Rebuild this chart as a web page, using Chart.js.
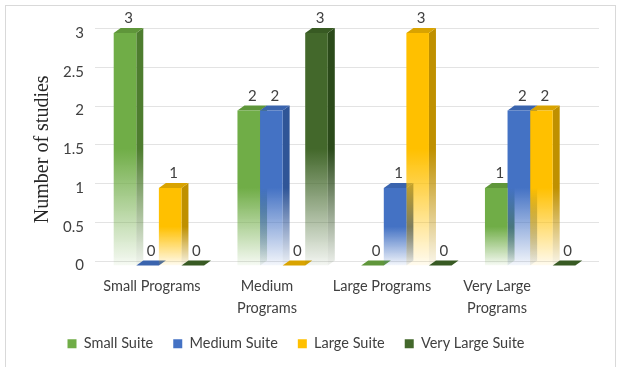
<!DOCTYPE html>
<html>
<head>
<meta charset="utf-8">
<script src="https://cdn.jsdelivr.net/npm/chart.js@4"></script>
<style>
  html, body { margin: 0; padding: 0; background: #ffffff; }
  #wrap { position: relative; width: 620px; height: 367px; overflow: hidden; }
  #frame { position: absolute; left: 5px; top: 5px; width: 611px; height: 380px; border: 1px solid #d9d9d9; box-sizing: border-box; }
  canvas { position: absolute; left: 0; top: 0; }
</style>
</head>
<body>
<div id="wrap">
  <div id="frame"></div>
  <canvas id="c" width="620" height="367"></canvas>
</div>
<script>
// ---- data ----
const categories = ['Small Programs', 'Medium Programs', 'Large Programs', 'Very Large Programs'];
const categoryLines = [['Small Programs'], ['Medium', 'Programs'], ['Large Programs'], ['Very Large', 'Programs']];
const seriesNames = ['Small Suite', 'Medium Suite', 'Large Suite', 'Very Large Suite'];
const smallSuite = [3, 2, 0, 1];
const mediumSuite = [0, 2, 1, 2];
const largeSuite = [1, 0, 3, 2];
const veryLargeSuite = [0, 3, 0, 0];
const yAxisTitle = 'Number of studies';

// ---- style ----
const frontColors = ['#70AD47', '#4472C4', '#FFC000', '#43682B'];
const sideColors  = ['#4E7D2F', '#2F5597', '#BF9000', '#2B4A1A'];
const topColors   = ['#5F963A', '#3A64AE', '#D9A300', '#385A23'];
const DX = 7, DY = 5;

function hexA(hex, a) {
  const n = parseInt(hex.slice(1), 16);
  return `rgba(${(n >> 16) & 255},${(n >> 8) & 255},${n & 255},${a})`;
}

function frontFill(i) {
  return (context) => {
    const chart = context.chart;
    if (!chart.chartArea || context.type !== 'data') return frontColors[i];
    const ys = chart.scales.y;
    const top = ys.getPixelForValue(context.raw);
    const base = ys.getPixelForValue(0);
    if (!(base - top > 1)) return frontColors[i];
    const g = chart.ctx.createLinearGradient(0, top, 0, base);
    g.addColorStop(0, frontColors[i]);
    g.addColorStop(0.5, frontColors[i]);
    g.addColorStop(1, hexA(frontColors[i], 0.06));
    return g;
  };
}

const seriesData = [smallSuite, mediumSuite, largeSuite, veryLargeSuite];

const bars3d = {
  id: 'bars3d',
  beforeDatasetsDraw(chart) {
    const ctx = chart.ctx;
    const ys = chart.scales.y;
    const area = chart.chartArea;
    // back-wall grid lines
    ctx.save();
    ctx.strokeStyle = '#e3e3e3';
    ctx.lineWidth = 1;
    ys.ticks.forEach(t => {
      const py = Math.round(ys.getPixelForValue(t.value) - DY) + 0.5;
      ctx.beginPath();
      ctx.moveTo(area.left - 2, py);
      ctx.lineTo(area.right + DX, py);
      ctx.stroke();
    });
    ctx.restore();
    // side and top faces (drawn before fronts so neighbouring fronts occlude them)
    chart.data.datasets.forEach((ds, i) => {
      const meta = chart.getDatasetMeta(i);
      meta.data.forEach(bar => {
        const {x, y, base, width} = bar.getProps(['x', 'y', 'base', 'width'], true);
        const l = x - width / 2, r = x + width / 2;
        ctx.save();
        if (base - y > 0.5) {
          const g = ctx.createLinearGradient(0, y, 0, base);
          g.addColorStop(0, sideColors[i]);
          g.addColorStop(0.5, sideColors[i]);
          g.addColorStop(1, hexA(sideColors[i], 0.08));
          ctx.fillStyle = g;
          ctx.beginPath();
          ctx.moveTo(r, y);
          ctx.lineTo(r + DX, y - DY);
          ctx.lineTo(r + DX, base - DY);
          ctx.lineTo(r, base);
          ctx.closePath();
          ctx.fill();
        }
        ctx.fillStyle = topColors[i];
        ctx.beginPath();
        ctx.moveTo(l, y);
        ctx.lineTo(l + DX, y - DY);
        ctx.lineTo(r + DX, y - DY);
        ctx.lineTo(r, y);
        ctx.closePath();
        ctx.fill();
        ctx.restore();
      });
    });
  },
  afterDatasetsDraw(chart) {
    const ctx = chart.ctx;
    ctx.save();
    ctx.font = '15px Lato';
    ctx.fillStyle = '#404040';
    ctx.textAlign = 'center';
    ctx.textBaseline = 'bottom';
    chart.data.datasets.forEach((ds, i) => {
      const meta = chart.getDatasetMeta(i);
      meta.data.forEach((bar, j) => {
        const {x, y} = bar.getProps(['x', 'y'], true);
        ctx.fillText(String(ds.data[j]), x + DX / 2, y - DY - 2);
      });
    });
    ctx.restore();
  }
};

// label axis: linear positions matching the reference's perspective-shifted category labels
const LABEL_MIN = -0.478, LABEL_MAX = 3.826;

new Chart(document.getElementById('c'), {
  type: 'bar',
  data: {
    labels: categories,
    datasets: seriesNames.map((name, i) => ({
      label: name,
      data: seriesData[i],
      backgroundColor: frontFill(i),
      borderWidth: 0,
      categoryPercentage: 0.73,
      barPercentage: 1.0
    }))
  },
  options: {
    responsive: false,
    animation: false,
    events: [],
    layout: { padding: { left: 0, right: 28, top: 33, bottom: 6 } },
    plugins: {
      tooltip: { enabled: false },
      legend: {
        position: 'bottom',
        labels: {
          boxWidth: 9,
          boxHeight: 9,
          padding: 20,
          color: '#404040',
          font: { family: 'Lato', size: 14.5 },
          generateLabels: (chart) => seriesNames.map((name, i) => ({
            text: name,
            fillStyle: frontColors[i],
            strokeStyle: frontColors[i],
            lineWidth: 0,
            hidden: false,
            datasetIndex: i,
            fontColor: '#404040'
          }))
        }
      }
    },
    scales: {
      x: {
        type: 'category',
        display: false,
        grid: { display: false }
      },
      xl: {
        type: 'linear',
        position: 'bottom',
        offset: false,
        min: LABEL_MIN,
        max: LABEL_MAX,
        grid: { display: false, drawTicks: false, offset: false },
        border: { display: false },
        afterFit: (s) => { s.height = 51; },
        ticks: {
          stepSize: 1,
          includeBounds: false,
          autoSkip: false,
          maxRotation: 0,
          padding: 10,
          color: '#404040',
          font: { family: 'Lato', size: 14.5, lineHeight: '22px' },
          callback: (v) => (Number.isInteger(v) && categoryLines[v]) ? categoryLines[v] : ''
        }
      },
      y: {
        min: 0,
        max: 3,
        grid: { display: false, drawTicks: false },
        border: { display: false },
        afterFit: (s) => { s.width = 97; },
        ticks: {
          stepSize: 0.5,
          padding: 13,
          color: '#404040',
          font: { family: 'Lato', size: 15 },
          callback: (v) => String(v)
        },
        title: {
          display: true,
          text: yAxisTitle,
          color: '#262626',
          font: { family: 'Liberation Serif', size: 20 },
          padding: { top: 31, bottom: 0 }
        }
      }
    }
  },
  plugins: [bars3d]
});
</script>
</body>
</html>
